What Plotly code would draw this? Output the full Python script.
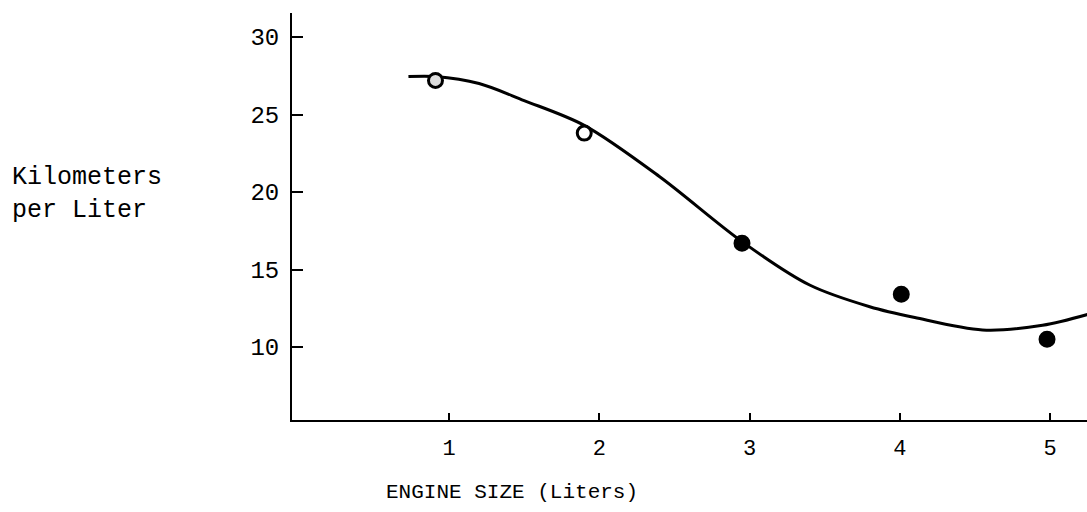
import plotly.graph_objects as go

# Measured fuel economy by engine size
engine_size = [0.91, 1.90, 2.95, 4.01, 4.98]
km_per_liter = [27.2, 23.8, 16.7, 13.4, 10.5]
point_fill = ["#dddddd", "white", "black", "black", "black"]

# Hand-drawn trend curve through the measurements
curve_x = [0.73, 0.91, 1.20, 1.50, 1.90, 2.40, 2.95, 3.40, 3.80, 4.10, 4.55,
           4.95, 5.25]
curve_y = [27.45, 27.45, 27.0, 25.9, 24.3, 21.0, 16.8, 14.0, 12.6, 11.9, 11.1,
           11.4, 12.1]

x_ticks = [1, 2, 3, 4, 5]
y_ticks = [10, 15, 20, 25, 30]

FONT = "Liberation Mono, Courier New, monospace"

fig = go.Figure()
fig.add_trace(go.Scatter(
    x=curve_x, y=curve_y, mode="lines",
    line=dict(color="black", width=3, shape="spline", smoothing=0.9),
    hoverinfo="skip", showlegend=False,
))
fig.add_trace(go.Scatter(
    x=engine_size, y=km_per_liter, mode="markers",
    marker=dict(size=14, color=point_fill, line=dict(color="black", width=3)),
    showlegend=False,
))

fig.update_layout(
    width=1087, height=512,
    margin=dict(l=292, r=0, t=13, b=92),
    paper_bgcolor="white", plot_bgcolor="white",
    font=dict(family=FONT, color="black"),
    xaxis=dict(
        range=[-0.045, 5.246], tickmode="array", tickvals=x_ticks,
        ticktext=[str(v) for v in x_ticks],
        ticks="inside", ticklen=7, tickwidth=2, tickcolor="black",
        showline=True, linecolor="black", linewidth=2,
        showgrid=False, zeroline=False,
        tickfont=dict(size=22, family=FONT), ticklabelstandoff=7,
    ),
    yaxis=dict(
        range=[5.29, 31.55], tickmode="array", tickvals=y_ticks,
        ticktext=[str(v) for v in y_ticks],
        ticks="inside", ticklen=11, tickwidth=2, tickcolor="black",
        showline=True, linecolor="black", linewidth=2,
        showgrid=False, zeroline=False,
        tickfont=dict(size=24, family=FONT), ticklabelstandoff=6,
    ),
    annotations=[
        dict(text="Kilometers<br>per Liter", xref="paper", yref="paper",
             x=-0.355, y=0.555, xanchor="left", yanchor="middle",
             align="left", showarrow=False,
             font=dict(size=25, family=FONT)),
        dict(text="ENGINE SIZE (Liters)", xref="paper", yref="paper",
             x=0.277, y=-0.177, xanchor="center", yanchor="middle",
             showarrow=False, font=dict(size=21, family=FONT)),
    ],
)

fig.write_html("out.html")
